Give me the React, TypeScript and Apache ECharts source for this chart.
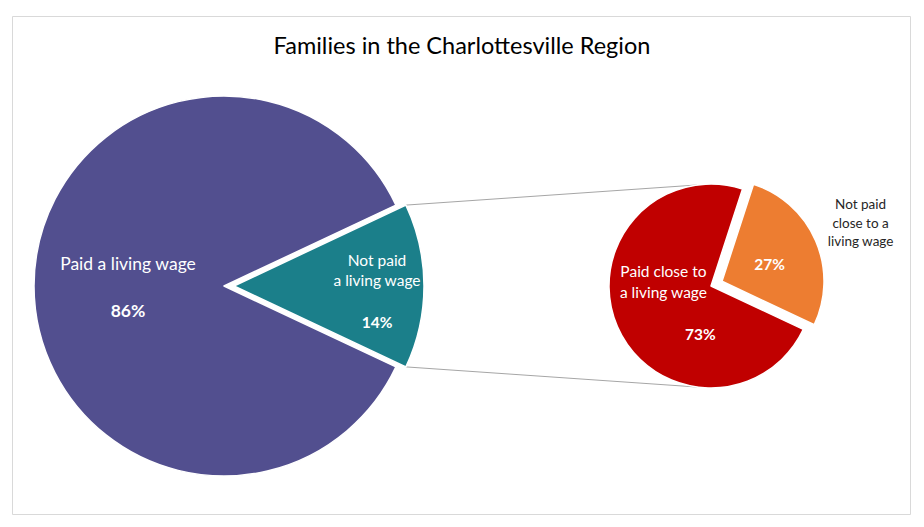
import React, { useEffect, useRef } from "react";
import * as echarts from "echarts";

// ---- Data ----
const TITLE = "Families in the Charlottesville Region";
const MAIN_CATEGORIES = ["Paid a living wage", "Not paid a living wage"];
const MAIN_LABELS = ["Paid a living wage", "Not paid\na living wage"];
const MAIN_VALUES = [86, 14];
const SUB_CATEGORIES = ["Paid close to a living wage", "Not paid close to a living wage"];
const SUB_LABELS = ["Paid close to\na living wage", "Not paid\nclose to a\nliving wage"];
const SUB_VALUES = [73, 27];

// ---- Styles / layout ----
const MAIN_COLORS = ["#524F8F", "#1B7F8A"];
const SUB_COLORS = ["#C00000", "#ED7D31"];
const FONT = "Lato, 'Noto Sans', sans-serif";
const MAIN = { cx: 224, cy: 286, r: 190, explode: 10 };
const SUB = { cx: 711, cy: 286, r: 102, explode: 12 };
const START_ANGLE = 360 - (MAIN_VALUES[1] / (MAIN_VALUES[0] + MAIN_VALUES[1])) * 180;

export default function App() {
  const ref = useRef<HTMLDivElement>(null);
  useEffect(() => {
    document.body.style.margin = "0";
    const chart = echarts.init(ref.current!, null, { renderer: "svg" });
    const half = (MAIN_VALUES[1] / (MAIN_VALUES[0] + MAIN_VALUES[1])) * Math.PI;
    const subAng = (98 * Math.PI) / 180;
    const tealX = MAIN.cx + MAIN.explode + MAIN.r * Math.cos(half);
    const tealDy = MAIN.r * Math.sin(half);
    const subX = SUB.cx + SUB.r * Math.cos(subAng);
    const subDy = SUB.r * Math.sin(subAng);

    const mainData = MAIN_CATEGORIES.map((name, i) => {
      const fs = i === 0 ? 17.5 : 15.5;
      return {
        name,
        value: MAIN_VALUES[i],
        selected: i === 1,
        itemStyle: { color: MAIN_COLORS[i] },
        select: { itemStyle: { color: MAIN_COLORS[i] } },
        label: {
          formatter: `{n|${MAIN_LABELS[i]}}\n{p|${MAIN_VALUES[i]}%}`,
          rich: {
            n: { color: "#fff", fontSize: fs, lineHeight: i === 0 ? 22 : 20, fontFamily: FONT, align: "center" },
            p: {
              color: "#fff",
              fontSize: fs,
              fontWeight: "bold",
              lineHeight: i === 0 ? 72 : 64,
              fontFamily: FONT,
              align: "center",
            },
          },
        },
      };
    });
    const subData = SUB_CATEGORIES.map((name, i) => ({
      name,
      value: SUB_VALUES[i],
      selected: i === 1,
      itemStyle: { color: SUB_COLORS[i] },
      select: { itemStyle: { color: SUB_COLORS[i] } },
      label: {
        formatter: i === 0 ? `{n|${SUB_LABELS[i]}}\n{p|${SUB_VALUES[i]}%}` : `{p|${SUB_VALUES[i]}%}`,
        rich: {
          n: { color: "#fff", fontSize: 15.5, lineHeight: 21, fontFamily: FONT, align: "center" },
          p: {
            color: "#fff",
            fontSize: 15.5,
            fontWeight: "bold",
            lineHeight: i === 0 ? 63 : 21,
            padding: i === 0 ? [0, 0, 0, 74] : 0,
            fontFamily: FONT,
            align: "center",
          },
        },
      },
    }));
    const overlayData = SUB_CATEGORIES.map((name, i) => ({
      name,
      value: SUB_VALUES[i],
      label: {
        show: i === 1,
        formatter: SUB_LABELS[i],
        color: "#262626",
        fontSize: 13.5,
        lineHeight: 18.5,
        fontFamily: FONT,
      },
    }));

    chart.setOption({
      animation: false,
      title: {
        text: TITLE,
        left: "center",
        top: 28,
        textStyle: { fontFamily: FONT, fontSize: 23.5, fontWeight: "normal", color: "#000" },
      },
      graphic: [
        {
          type: "rect",
          shape: { x: 12.5, y: 16.5, width: 898, height: 498 },
          style: { fill: "none", stroke: "#D9D9D9", lineWidth: 1 },
          z: -1,
        },
        {
          type: "line",
          shape: { x1: tealX, y1: MAIN.cy - tealDy, x2: subX, y2: SUB.cy - subDy },
          style: { stroke: "#A6A6A6", lineWidth: 1 },
        },
        {
          type: "line",
          shape: { x1: tealX, y1: MAIN.cy + tealDy, x2: subX, y2: SUB.cy + subDy },
          style: { stroke: "#A6A6A6", lineWidth: 1 },
        },
      ],
      series: [
        {
          type: "pie",
          center: [MAIN.cx, MAIN.cy],
          radius: [0, MAIN.r],
          startAngle: START_ANGLE,
          selectedMode: "single",
          selectedOffset: MAIN.explode,
          silent: true,
          itemStyle: { borderColor: "#fff", borderWidth: 1.5 },
          label: { show: true, position: "inside" },
          labelLine: { show: false },
          labelLayout: (p: any) => (p.dataIndex === 1 ? { dx: 45, dy: 16 } : { dx: 2, dy: 13 }),
          emphasis: { disabled: true },
          data: mainData,
        },
        {
          type: "pie",
          center: [SUB.cx, SUB.cy],
          radius: [0, SUB.r],
          startAngle: START_ANGLE,
          selectedMode: "single",
          selectedOffset: SUB.explode,
          silent: true,
          itemStyle: { borderColor: "#fff", borderWidth: 1.5 },
          label: { show: true, position: "inside" },
          labelLine: { show: false },
          labelLayout: (p: any) => (p.dataIndex === 0 ? { dx: 2, dy: 6 } : { dx: -2, dy: 4 }),
          emphasis: { disabled: true },
          data: subData,
        },
        {
          type: "pie",
          center: [SUB.cx, SUB.cy],
          radius: [0, SUB.r],
          startAngle: START_ANGLE,
          silent: true,
          itemStyle: { color: "transparent", borderWidth: 0 },
          label: { position: "inside" },
          labelLine: { show: false },
          labelLayout: (p: any) => (p.dataIndex === 1 ? { dx: 100, dy: -42 } : {}),
          emphasis: { disabled: true },
          data: overlayData,
        },
      ],
    });
    return () => chart.dispose();
  }, []);
  return <div ref={ref} style={{ width: 924, height: 527 }} />;
}
